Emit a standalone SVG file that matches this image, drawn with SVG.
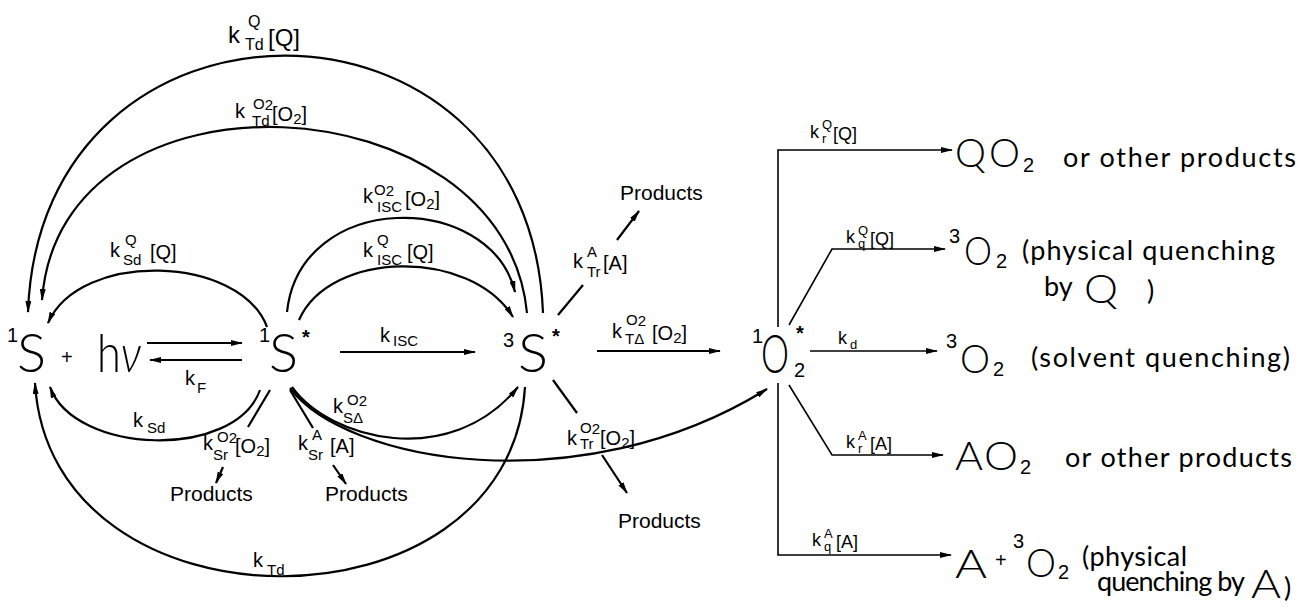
<svg xmlns="http://www.w3.org/2000/svg" width="1307" height="607" viewBox="0 0 1307 607">
<style>
.big{font-family:Lato,"Open Sans","DejaVu Sans",sans-serif;font-weight:300;font-size:54px;fill:#000}
.mid{font-family:Lato,"Open Sans","DejaVu Sans",sans-serif;font-weight:300;font-size:40px;fill:#000}
.sup{font-family:"Liberation Sans",Arial,sans-serif;font-size:20px;fill:#000}
.star{font-family:"Liberation Sans",Arial,sans-serif;font-weight:bold;font-size:20px;fill:#000}
.txt{font-family:Lato,"Open Sans","DejaVu Sans",sans-serif;font-size:27px;fill:#000}
.lab{font-family:"Liberation Sans",Arial,sans-serif;font-size:20px;fill:#000}
.lab24{font-family:"Liberation Sans",Arial,sans-serif;font-size:24px;fill:#000}
.s{font-size:15px}
.s16{font-size:16px}
.rl{font-family:"Liberation Sans",Arial,sans-serif;font-size:18px;fill:#000}
.rs{font-size:13px}
.prod{font-family:"Liberation Sans",Arial,sans-serif;font-size:21px;fill:#000}
.c{fill:none;stroke:#000;stroke-width:2.2}
.r{fill:none;stroke:#000;stroke-width:1.6}
.a{marker-end:url(#ah)}
</style>
<defs>
<marker id="ah" viewBox="0 0 12 6" refX="11" refY="3" markerWidth="12" markerHeight="6" markerUnits="userSpaceOnUse" orient="auto"><path d="M0,0 L12,3 L0,6 z" fill="#000"/></marker>
</defs>
<rect width="1307" height="607" fill="#fff"/>

<g id="connectors">
<path class="c a" d="M543,313 C530,-30 40,-30 28,312"/>
<path class="c a" d="M527,313 C505,80 60,55 42,300"/>
<path class="c a" d="M287,312 C300,190 490,190 515,292"/>
<path class="c a" d="M299,320 C330,250 470,248 513,317"/>
<path class="c a" d="M267,327 C240,255 80,250 48,323"/>
<path class="c a" d="M260,390 C235,460 75,455 50,387"/>
<path class="c a" d="M525,387 C510,640 50,640 35,383"/>
<path class="c a" d="M292,387 C330,440 450,470 518,387"/>
<path class="c a" d="M290,388 C345,462 580,505 767,389"/>
<path class="c a" d="M147,343 L242,343"/>
<path class="c a" d="M242,360 L150,360"/>
<path class="c a" d="M340,352 L475,352"/>
<path class="c a" d="M597,351 L720,351"/>
<path class="c" d="M270,390 L248,427"/>
<path class="c a" d="M223,467 L216,483"/>
<path class="c" d="M290,390 L313,428"/>
<path class="c a" d="M333,465 L346,484"/>
<path class="c" d="M558,315 L583,285"/>
<path class="c a" d="M617,240 L639,211"/>
<path class="c" d="M553,380 L577,413"/>
<path class="c a" d="M602,455 L627,493"/>
<path class="r a" d="M778,327 L778,150 L952,150"/>
<path class="r a" d="M789,325 L832,249 L945,249"/>
<path class="r a" d="M810,351 L937,351"/>
<path class="r a" d="M789,385 L832,455 L943,455"/>
<path class="r a" d="M778,383 L778,555 L951,555"/>
</g>

<g id="edge-labels">
<text class="lab24" x="228" y="43">k<tspan class="s16" x="245" y="50">Td</tspan><tspan class="s16" x="248" y="27">Q</tspan><tspan x="268" y="46">[Q]</tspan></text>
<text class="lab" x="235" y="118">k<tspan class="s" x="252" y="126">Td</tspan><tspan class="s" x="253" y="109">O<tspan dy="1">2</tspan></tspan><tspan x="272" y="121">[O<tspan class="s" dy="3">2</tspan><tspan dy="-3">]</tspan></tspan></text>
<text class="lab" x="363" y="203">k<tspan class="s" x="377" y="212">ISC</tspan><tspan class="s" x="374" y="195">O<tspan dy="1">2</tspan></tspan><tspan x="405" y="206">[O<tspan class="s" dy="3">2</tspan><tspan dy="-3">]</tspan></tspan></text>
<text class="lab" x="363" y="257">k<tspan class="s" x="377" y="265">ISC</tspan><tspan class="s" x="377" y="245">Q</tspan><tspan x="407" y="259">[Q]</tspan></text>
<text class="lab" x="110" y="257">k<tspan class="s" x="123" y="265">Sd</tspan><tspan class="s" x="125" y="245">Q</tspan><tspan x="150" y="259">[Q]</tspan></text>
<text class="lab" x="185" y="385">k<tspan class="s" x="197" y="393">F</tspan></text>
<text class="lab" x="380" y="342">k<tspan class="s" x="393" y="346">ISC</tspan></text>
<text class="lab" x="133" y="427">k<tspan class="s" x="147" y="433">Sd</tspan></text>
<text class="lab" x="203" y="450">k<tspan class="s" x="213" y="460">Sr</tspan><tspan class="s" x="217" y="442">O<tspan dy="1">2</tspan></tspan><tspan x="235" y="453">[O<tspan class="s" dy="3">2</tspan><tspan dy="-3">]</tspan></tspan></text>
<text class="lab" x="298" y="450">k<tspan class="s" x="308" y="460">Sr</tspan><tspan class="s" x="312" y="440">A</tspan><tspan x="330" y="453">[A]</tspan></text>
<text class="lab" x="333" y="413">k<tspan class="s" x="343" y="423">SΔ</tspan><tspan class="s" x="347" y="405">O<tspan dy="1">2</tspan></tspan></text>
<text class="lab" x="573" y="268">k<tspan class="s" x="587" y="277">Tr</tspan><tspan class="s" x="587" y="257">A</tspan><tspan x="603" y="270">[A]</tspan></text>
<text class="lab" x="612" y="338">k<tspan class="s" x="625" y="344">TΔ</tspan><tspan class="s" x="626" y="325">O<tspan dy="1">2</tspan></tspan><tspan x="652" y="340">[O<tspan class="s" dy="3">2</tspan><tspan dy="-3">]</tspan></tspan></text>
<text class="lab" x="567" y="445">k<tspan class="s" x="580" y="449">Tr</tspan><tspan class="s" x="580" y="433">O<tspan dy="1">2</tspan></tspan><tspan x="600" y="445">[O<tspan class="s" dy="3">2</tspan><tspan dy="-3">]</tspan></tspan></text>
<text class="lab" x="253" y="567">k<tspan class="s" x="267" y="575">Td</tspan></text>
<text class="rl" x="810" y="138">k<tspan class="rs" x="822" y="143">r</tspan><tspan class="rs" x="822" y="129">Q</tspan><tspan x="833" y="140">[Q]</tspan></text>
<text class="rl" x="846" y="243">k<tspan class="rs" x="858" y="248">q</tspan><tspan class="rs" x="858" y="235">Q</tspan><tspan x="870" y="245">[Q]</tspan></text>
<text class="rl" x="838" y="344">k<tspan class="rs" x="850" y="349">d</tspan></text>
<text class="rl" x="846" y="448">k<tspan class="rs" x="858" y="453">r</tspan><tspan class="rs" x="858" y="440">A</tspan><tspan x="870" y="450">[A]</tspan></text>
<text class="rl" x="812" y="546">k<tspan class="rs" x="824" y="551">q</tspan><tspan class="rs" x="824" y="538">A</tspan><tspan x="836" y="548">[A]</tspan></text>
</g>

<g id="n-1S"><text class="sup" x="7" y="342">1</text><text class="big" x="17" y="372" textLength="29" lengthAdjust="spacingAndGlyphs">S</text></g>
<g id="n-plus"><text class="sup" x="61" y="364" font-size="28">+</text></g>
<g id="n-hv"><text class="big" x="97" y="372" textLength="44" lengthAdjust="spacingAndGlyphs">h<tspan font-style="italic">ν</tspan></text></g>
<g id="n-1Sstar"><text class="sup" x="259" y="342">1</text><text class="big" x="269" y="372" textLength="29" lengthAdjust="spacingAndGlyphs">S</text><text class="star" x="302" y="344">*</text></g>
<g id="n-3Sstar"><text class="sup" x="503" y="347">3</text><text class="big" x="518" y="372" textLength="30" lengthAdjust="spacingAndGlyphs">S</text><text class="star" x="552" y="343">*</text></g>
<g id="n-1O2star"><text class="sup" x="752" y="343">1</text><text class="big" x="761" y="373" textLength="28" lengthAdjust="spacingAndGlyphs">O</text><text class="sup" x="794" y="377">2</text><text class="star" x="796" y="340">*</text></g>

<g id="n-prod-Sr-O2"><text class="prod" x="170" y="501">Products</text></g>
<g id="n-prod-Sr-A"><text class="prod" x="325" y="501">Products</text></g>
<g id="n-prod-Tr-A"><text class="prod" x="620" y="200">Products</text></g>
<g id="n-prod-Tr-O2"><text class="prod" x="618" y="528">Products</text></g>

<g id="n-QO2"><text class="mid" x="955" y="167" textLength="31" lengthAdjust="spacingAndGlyphs">Q</text><text class="mid" x="989" y="167" textLength="31" lengthAdjust="spacingAndGlyphs">O</text><text class="sup" x="1023" y="172">2</text><text class="txt" x="1063" y="167" textLength="233" lengthAdjust="spacing">or other products</text></g>
<g id="n-3O2-Q"><text class="sup" x="949" y="243">3</text><text class="mid" x="964" y="265" textLength="28" lengthAdjust="spacingAndGlyphs">O</text><text class="sup" x="996" y="268">2</text><text class="txt" x="1022" y="260" textLength="253" lengthAdjust="spacing">(physical quenching</text><text class="txt" x="1044" y="296">by</text><text class="mid" x="1084" y="303" textLength="34" lengthAdjust="spacingAndGlyphs">Q</text><text class="txt" x="1147" y="300">)</text></g>
<g id="n-3O2-solv"><text class="sup" x="946" y="348">3</text><text class="mid" x="960" y="373" textLength="30" lengthAdjust="spacingAndGlyphs">O</text><text class="sup" x="993" y="376">2</text><text class="txt" x="1031" y="367" textLength="259" lengthAdjust="spacing">(solvent quenching)</text></g>
<g id="n-AO2"><text class="mid" x="955" y="470" textLength="28" lengthAdjust="spacingAndGlyphs">A</text><text class="mid" x="984" y="470" textLength="34" lengthAdjust="spacingAndGlyphs">O</text><text class="sup" x="1020" y="474">2</text><text class="txt" x="1065" y="467" textLength="227" lengthAdjust="spacing">or other products</text></g>
<g id="n-A3O2"><text class="mid" x="955" y="578" textLength="32" lengthAdjust="spacingAndGlyphs">A</text><text class="sup" x="995" y="567">+</text><text class="sup" x="1013" y="548">3</text><text class="mid" x="1026" y="577" textLength="30" lengthAdjust="spacingAndGlyphs">O</text><text class="sup" x="1058" y="579">2</text><text class="txt" x="1082" y="566" textLength="105" lengthAdjust="spacing">(physical</text><text class="txt" x="1097" y="591" textLength="148" lengthAdjust="spacing">quenching by</text><text class="mid" x="1251" y="598" font-size="38" textLength="30" lengthAdjust="spacingAndGlyphs">A</text><text class="txt" x="1284" y="597">)</text></g>
</svg>
